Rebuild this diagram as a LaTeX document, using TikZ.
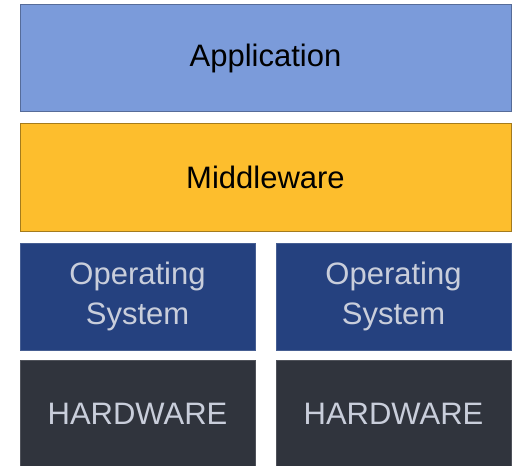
\documentclass[tikz,border=0pt]{standalone}
\usepackage{fontspec}
\setmainfont{Liberation Sans}
\usetikzlibrary{positioning}

\definecolor{appblue}{HTML}{7B9BDA}
\definecolor{mwgold}{HTML}{FDBE2D}
\definecolor{osblue}{HTML}{25417F}
\definecolor{hwgrey}{HTML}{30343D}
\definecolor{lighttext}{HTML}{C9CEDB}

\begin{document}
\begin{tikzpicture}[
    x=1pt, y=1pt,
    layer/.style={
      draw, line width=1pt, minimum height=107pt, inner sep=0pt,
      align=center, font=\fontsize{31}{40}\selectfont
    },
    wide/.style={layer, minimum width=491pt},
    half/.style={layer, minimum width=235pt, text=lighttext},
    app/.style={wide, fill=appblue, draw=appblue!70!black},
    mw/.style={wide, fill=mwgold, draw=mwgold!65!black},
    os/.style={half, fill=osblue, draw=osblue!85!white},
    hw/.style={half, fill=hwgrey, draw=hwgrey!85!white}
]
\useasboundingbox (0,0) rectangle (513,-465);

% shared layers
\node[app] (app) at (265.5,-58.5) {Application};
\node[mw, below=11pt of app] (mw) {Middleware};

% one stack per machine
\node[os, below right=11pt and 0pt of mw.south west] (osl) {Operating\\System};
\node[os, below left=11pt and 0pt of mw.south east] (osr) {Operating\\System};
\node[hw, below=9pt of osl] (hwl) {HARDWARE};
\node[hw, below=9pt of osr] (hwr) {HARDWARE};

\end{tikzpicture}
\end{document}
